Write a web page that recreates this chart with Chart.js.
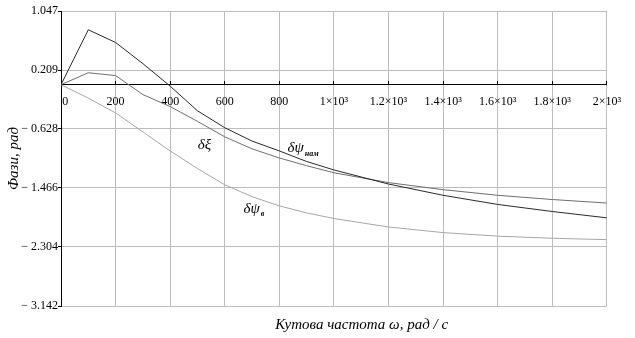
<!DOCTYPE html>
<html><head><meta charset="utf-8">
<script src="https://cdn.jsdelivr.net/npm/chart.js@4"></script>
<style>html,body{margin:0;padding:0;background:#fff;} #wrap{width:635px;height:338px;}</style>
</head><body><div id="wrap"><canvas id="c" width="635" height="338"></canvas></div>
<script>
// ---- data ----
const freq = [0,100,200,300,400,500,600,700,800,900,1000,1200,1400,1600,1800,2000];
const psiNam = [0,0.78,0.60,0.30,-0.02,-0.37,-0.61,-0.80,-0.94,-1.09,-1.21,-1.41,-1.57,-1.70,-1.80,-1.89];
const xi     = [0,0.17,0.13,-0.14,-0.31,-0.52,-0.74,-0.91,-1.04,-1.15,-1.25,-1.39,-1.49,-1.57,-1.63,-1.68];
const psiV   = [0,-0.19,-0.40,-0.67,-0.94,-1.19,-1.42,-1.59,-1.72,-1.82,-1.90,-2.02,-2.10,-2.15,-2.18,-2.20];
const xTickValues = [0,200,400,600,800,1000,1200,1400,1600,1800,2000];
const xTickLabels = ['\u2002\u20090','200','400','600','800','1\u00d710\u00b3','1.2\u00d710\u00b3','1.4\u00d710\u00b3','1.6\u00d710\u00b3','1.8\u00d710\u00b3','2\u00d710\u00b3'];
const yTickValues = [1.047,0.209,-0.628,-1.466,-2.304,-3.142];
const yTickLabels = ['1.047','0.209','\u2212 0.628','\u2212 1.466','\u2212 2.304','\u2212 3.142'];
const curveNames = [
  {main:'\u03b4\u03be', sub:'', x:501, y:-0.85},
  {main:'\u03b4\u03c8', sub:'нам', x:830, y:-0.906},
  {main:'\u03b4\u03c8', sub:'в', x:669, y:-1.77}
];
const xTitle = 'Кутова частота \u03c9, рад / с';
const yTitle = 'Фази, рад';

const serif = "'Liberation Serif','Times New Roman',serif";
const pts = arr => freq.map((f,i)=>({x:f,y:arr[i]}));

const labelPlugin = {
  id:'curveLabels',
  afterDatasetsDraw(chart){
    const {ctx, scales:{x,y}} = chart;
    ctx.save();
    ctx.fillStyle = '#000';
    ctx.textBaseline = 'middle';
    ctx.textAlign = 'left';
    curveNames.forEach(l=>{
      const px = x.getPixelForValue(l.x), py = y.getPixelForValue(l.y);
      ctx.font = 'italic 15px ' + serif;
      ctx.fillText(l.main, px, py);
      const w = ctx.measureText(l.main).width;
      if (l.sub){
        ctx.font = 'italic bold 8px ' + serif;
        ctx.fillText(l.sub, px + w + 1, py + 5);
      }
    });
    ctx.restore();
  }
};

new Chart(document.getElementById('c'), {
  type:'line',
  data:{
    datasets:[
      {data:pts(psiNam), borderColor:'#2a2a2a', borderWidth:1, pointRadius:0, tension:0},
      {data:pts(xi), borderColor:'#6e6e6e', borderWidth:1, pointRadius:0, tension:0},
      {data:pts(psiV), borderColor:'#a6a6a6', borderWidth:1, pointRadius:0, tension:0}
    ]
  },
  options:{
    responsive:false, animation:false,
    layout:{padding:{top:11,right:14,bottom:0,left:0}},
    plugins:{legend:{display:false}, tooltip:{enabled:false}},
    scales:{
      x:{
        type:'linear', min:0, max:2000,
        position:{y:0},
        afterBuildTicks: s => { s.ticks = xTickValues.map(v=>({value:v})); },
        ticks:{
          callback:(v)=>{ const i = xTickValues.indexOf(v); return i>=0 ? xTickLabels[i] : ''; },
          font:{family:serif, size:12}, color:'#000', padding:14, maxRotation:0, autoSkip:false
        },
        grid:{color:'#bdbdbd', lineWidth:1, tickLength:-4, tickColor:'#000'},
        border:{display:true, color:'#000', width:1}
      },
      x2:{
        type:'linear', position:'bottom', min:0, max:2000,
        ticks:{display:false},
        grid:{display:false, drawTicks:false},
        border:{display:false},
        title:{display:true, text:'\u2002\u2002\u2002\u2002\u2002\u2002\u2002\u2009' + xTitle,
          font:{family:serif, size:15, style:'italic'}, color:'#000', padding:{top:10, bottom:4}}
      },
      y:{
        type:'linear', min:-3.142, max:1.047, position:'left',
        afterBuildTicks: s => { s.ticks = yTickValues.map(v=>({value:v})); },
        afterFit: s => { s.width = 61; },
        ticks:{
          callback:(v)=>{ const i = yTickValues.findIndex(t=>Math.abs(t-v)<1e-6); return i>=0 ? yTickLabels[i] : ''; },
          font:{family:serif, size:12}, color:'#000', padding:0, autoSkip:false
        },
        grid:{color:'#bdbdbd', lineWidth:1, tickLength:3, tickColor:'#000'},
        border:{display:true, color:'#000', width:1},
        title:{display:true, text:yTitle, font:{family:serif, size:15, style:'italic'}, color:'#000', padding:{top:5, bottom:0}}
      }
    }
  },
  plugins:[labelPlugin]
});
</script>
</body></html>
